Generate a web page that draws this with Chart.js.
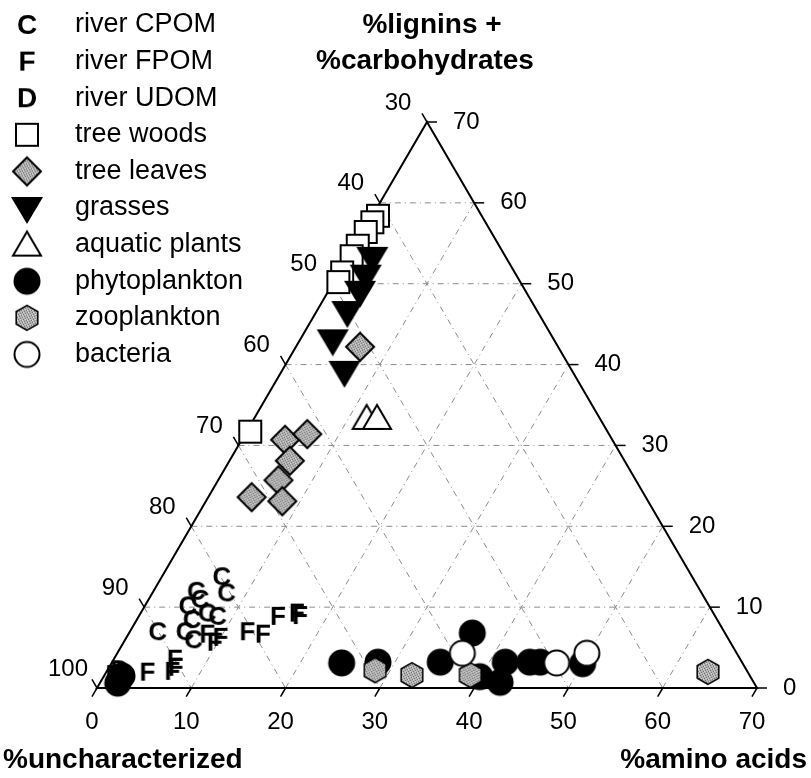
<!DOCTYPE html>
<html>
<head>
<meta charset="utf-8">
<script src="https://cdn.jsdelivr.net/npm/chart.js@4.4.0/dist/chart.umd.min.js"></script>
<style>
  html, body { margin:0; padding:0; background:#fff; }
  #wrap { width:811px; height:778px; }
</style>
</head>
<body>
<div id="wrap"><canvas id="ternChart" width="811" height="778"></canvas></div>
<script>
// values: % amino acids and % lignins+carbohydrates
// (% uncharacterized = 100 - the other two)
const seriesNames = ['river CPOM','river FPOM','river UDOM','tree woods','tree leaves','grasses','aquatic plants','phytoplankton','zooplankton','bacteria'];

const cpomAmino  = [6.4, 7.9, 4.6, 4.6, 5.5, 7.1, 8.4, 3.0, 5.9, 7.3, 5.9];
const cpomLignin = [13.7, 11.7, 11.9, 10.1, 10.9, 9.2, 8.8, 6.9, 6.9, 5.9, 8.4];
const fpomAmino  = [17.1, 16.6, 14.8, 14.3, 12.5, 10.0, 8.4, 9.7, 6.5, 7.0, 4.4, 7.1];
const fpomLignin = [8.9, 9.2, 8.8, 6.6, 6.9, 6.2, 6.6, 5.6, 3.5, 2.0, 1.9, 2.5];
const udomAmino  = [1.3, 1.1];
const udomLignin = [2.2, 1.6];
const woodAmino  = [0.6, 0.4, 0.3, 0.3, 0.3, 0.3, 0.5, 0.4];
const woodLignin = [58.4, 57.6, 56.4, 54.7, 53.4, 51.4, 50.2, 31.7];
const leafAmino  = [6.8, 4.6, 6.6, 6.4, 6.4, 4.6, 8.1];
const leafLignin = [42.2, 30.7, 31.4, 28.1, 25.7, 23.6, 23.1];
const grassAmino  = [2.6, 3.0, 3.4, 3.3, 3.5, 6.7];
const grassLignin = [53.2, 51.0, 49.0, 46.5, 43.0, 39.1];
const aquaAmino  = [11.9, 13.0];
const aquaLignin = [33.4, 33.4];
const phytoAmino  = [24.4, 28.2, 34.8, 36.4, 39.9, 42.4, 41.7, 44.3, 45.4, 50.0, 1.9, 1.9];
const phytoLignin = [3.1, 3.2, 3.2, 6.8, 1.4, 0.7, 3.2, 3.2, 3.2, 3.0, 0.6, 1.5];
const zooAmino  = [28.4, 32.6, 38.8, 63.8];
const zooLignin = [2.2, 1.6, 1.6, 2.0];
const bactAmino  = [36.6, 47.2, 49.8];
const bactLignin = [4.3, 3.1, 4.3];

const aminoTicks  = [0, 10, 20, 30, 40, 50, 60, 70];
const ligninTicks = [0, 10, 20, 30, 40, 50, 60, 70];
const uncharTicks = [100, 90, 80, 70, 60, 50, 40, 30];

const FONT = '"Liberation Sans", Arial, sans-serif';

// grey stipple used by leaves and zooplankton
function stipple() {
  const c = document.createElement('canvas');
  c.width = 5; c.height = 5;
  const g = c.getContext('2d');
  g.fillStyle = '#b4b4b4'; g.fillRect(0, 0, 5, 5);
  g.fillStyle = '#6a6a6a';
  [[0,0],[3,1],[1,2],[4,3],[2,4]].forEach(p => g.fillRect(p[0], p[1], 1, 1));
  g.fillStyle = '#e0e0e0';
  [[2,0],[0,3],[4,1]].forEach(p => g.fillRect(p[0], p[1], 1, 1));
  return c;
}

function makeMarker(kind, letterPx) {
  const s = 38, c = document.createElement('canvas');
  c.width = s; c.height = s;
  const g = c.getContext('2d'), m = s / 2;
  const pat = g.createPattern(stipple(), 'repeat');
  g.lineWidth = 2; g.strokeStyle = '#000';
  g.beginPath();
  if (kind === 'C' || kind === 'F' || kind === 'D') {
    g.font = 'bold ' + letterPx + 'px ' + FONT;
    g.textAlign = 'center'; g.textBaseline = 'middle';
    g.fillStyle = '#000';
    g.fillText(kind, m, m + 1);
  } else if (kind === 'square') {
    g.rect(m - 11, m - 11, 22, 22);
    g.fillStyle = '#fff'; g.fill(); g.stroke();
  } else if (kind === 'diamond') {
    g.moveTo(m, m - 14); g.lineTo(m + 14, m); g.lineTo(m, m + 14); g.lineTo(m - 14, m); g.closePath();
    g.fillStyle = pat; g.fill(); g.stroke();
  } else if (kind === 'down') {
    g.moveTo(m - 16, m - 11); g.lineTo(m + 16, m - 11); g.lineTo(m, m + 16); g.closePath();
    g.fillStyle = '#000'; g.fill();
  } else if (kind === 'up') {
    g.moveTo(m, m - 13); g.lineTo(m + 14, m + 11); g.lineTo(m - 14, m + 11); g.closePath();
    g.fillStyle = '#fff'; g.fill(); g.stroke();
  } else if (kind === 'dot') {
    g.arc(m, m, 13.5, 0, Math.PI * 2);
    g.fillStyle = '#000'; g.fill();
  } else if (kind === 'hex') {
    for (let i = 0; i < 6; i++) {
      const t = Math.PI / 2 + i * Math.PI / 3;
      g.lineTo(m + 12.5 * Math.cos(t), m + 12.5 * Math.sin(t));
    }
    g.closePath();
    g.fillStyle = pat; g.fill(); g.lineWidth = 1.5; g.stroke();
  } else if (kind === 'ring') {
    g.arc(m, m, 12.5, 0, Math.PI * 2);
    g.fillStyle = '#fff'; g.fill(); g.stroke();
  }
  return c;
}

const markerKinds = ['C', 'F', 'D', 'square', 'diamond', 'down', 'up', 'dot', 'hex', 'ring'];
const markers = markerKinds.map(k => makeMarker(k, 26));
const legendMarkers = markerKinds.map(k => makeMarker(k, 28));

const amino  = [cpomAmino, fpomAmino, udomAmino, woodAmino, leafAmino, grassAmino, aquaAmino, phytoAmino, zooAmino, bactAmino];
const lignin = [cpomLignin, fpomLignin, udomLignin, woodLignin, leafLignin, grassLignin, aquaLignin, phytoLignin, zooLignin, bactLignin];

// ternary -> plane: x = amino + lignin/2, y = lignin
const datasets = seriesNames.map((name, i) => ({
  label: name,
  data: amino[i].map((a, j) => ({ x: a + lignin[i][j] / 2, y: lignin[i][j] })),
  pointStyle: markers[i],
  pointRadius: 12,
  clip: false,
  order: 9 - i
}));

const ternaryFrame = {
  id: 'ternaryFrame',
  beforeDatasetsDraw(chart) {
    const { ctx, scales: { x, y } } = chart;
    const P = (a, l) => [x.getPixelForValue(a + l / 2), y.getPixelForValue(l)];
    const line = (p, q) => { ctx.beginPath(); ctx.moveTo(p[0], p[1]); ctx.lineTo(q[0], q[1]); ctx.stroke(); };
    ctx.save();

    // dashed grid
    ctx.strokeStyle = '#8c8c8c'; ctx.lineWidth = 1; ctx.setLineDash([6, 4, 1, 4]);
    for (let k = 10; k < 70; k += 10) {
      line(P(0, k), P(70 - k, k));
      line(P(k, 0), P(k, 70 - k));
      line(P(0, k), P(k, 0));
    }
    ctx.setLineDash([]);

    // triangle
    const A = P(0, 0), B = P(70, 0), T = P(0, 70);
    ctx.strokeStyle = '#000'; ctx.lineWidth = 2;
    ctx.beginPath(); ctx.moveTo(A[0], A[1]); ctx.lineTo(B[0], B[1]); ctx.lineTo(T[0], T[1]); ctx.closePath(); ctx.stroke();

    // ticks + labels
    const len = 10;
    const lv = [T[0] - A[0], T[1] - A[1]], ln = Math.hypot(lv[0], lv[1]);
    const ld = [lv[0] / ln, lv[1] / ln];
    const rv = [T[0] - B[0], T[1] - B[1]], rn = Math.hypot(rv[0], rv[1]);
    const rd = [rv[0] / rn, rv[1] / rn];
    ctx.lineWidth = 1.5;
    ctx.fillStyle = '#000';
    ctx.font = '24px ' + FONT;
    ctx.textBaseline = 'middle';
    aminoTicks.forEach(k => {
      const p = P(k, 0);
      line(p, [p[0] - ld[0] * len, p[1] - ld[1] * len]);
      ctx.textAlign = 'center';
      ctx.fillText(String(k), p[0] - 5, 722);
    });
    ligninTicks.forEach(k => {
      const p = P(70 - k, k);
      line(p, [p[0] + len, p[1]]);
      ctx.textAlign = 'left';
      ctx.fillText(String(k), p[0] + 26, p[1]);
    });
    uncharTicks.forEach(u => {
      const p = P(0, 100 - u);
      line(p, [p[0] + rd[0] * len, p[1] + rd[1] * len]);
      ctx.textAlign = 'center';
      ctx.fillText(String(u), p[0] - 29, p[1] - 19);
    });
    ctx.restore();
  },
  afterDraw(chart) {
    const ctx = chart.ctx;
    ctx.save();
    ctx.fillStyle = '#000';
    ctx.textBaseline = 'middle';
    // legend
    ctx.font = '27px ' + FONT;
    ctx.textAlign = 'left';
    seriesNames.forEach((name, i) => {
      const yy = 25 + i * 36.6;
      const m = legendMarkers[i];
      ctx.drawImage(m, 27 - m.width / 2, yy - m.height / 2);
      ctx.fillText(name, 75, yy);
    });
    // axis titles
    ctx.font = 'bold 28px ' + FONT;
    ctx.textAlign = 'center';
    ctx.fillText('%lignins +', 432, 25);
    ctx.fillText('%carbohydrates', 425, 61);
    ctx.textAlign = 'left';
    ctx.fillText('%uncharacterized', 3, 760);
    ctx.textAlign = 'right';
    ctx.fillText('%amino acids', 807, 760);
    ctx.restore();
  }
};

new Chart(document.getElementById('ternChart'), {
  type: 'scatter',
  data: { datasets },
  options: {
    responsive: false,
    animation: false,
    layout: { padding: { left: 97, right: 54, top: 122, bottom: 90 } },
    scales: {
      x: { type: 'linear', min: 0, max: 70, display: false },
      y: { type: 'linear', min: 0, max: 70, display: false }
    },
    plugins: { legend: { display: false }, tooltip: { enabled: false } }
  },
  plugins: [ternaryFrame]
});
</script>
</body>
</html>
